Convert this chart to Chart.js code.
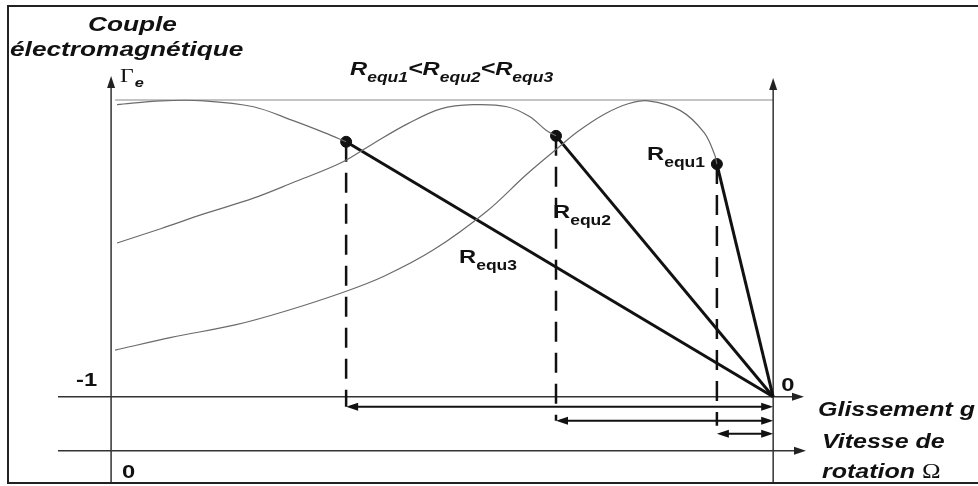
<!DOCTYPE html>
<html lang="fr">
<head>
<meta charset="utf-8">
<title>Couple électromagnétique – glissement</title>
<script src="https://cdn.jsdelivr.net/npm/chart.js@4.4.1/dist/chart.umd.min.js"></script>
<style>
  html, body { margin: 0; padding: 0; background: #fff; }
  #wrap { position: relative; width: 978px; height: 486px; }
</style>
</head>
<body>
<div id="wrap"><canvas id="chart"></canvas></div>
<script>
// Caractéristiques couple / glissement pour trois résistances rotoriques.
// Abscisse : glissement g (-1 à gauche, 0 au synchronisme à droite).
// Ordonnée : couple normalisé (1 = couple maximal).

const g1 = [-0.994, -0.909, -0.811, -0.736, -0.647, -0.587, -0.513, -0.432, -0.373, -0.328, -0.294, -0.253, -0.219, -0.189, -0.140, -0.104, -0.088, -0.085];
const couple1 = [0.157, 0.200, 0.243, 0.289, 0.354, 0.407, 0.495, 0.626, 0.748, 0.833, 0.895, 0.954, 0.987, 0.997, 0.964, 0.889, 0.813, 0.784];

const g2 = [-0.991, -0.924, -0.860, -0.785, -0.726, -0.651, -0.602, -0.551, -0.502, -0.453, -0.402, -0.368, -0.343, -0.328];
const couple2 = [0.518, 0.567, 0.616, 0.669, 0.721, 0.790, 0.856, 0.921, 0.970, 0.984, 0.977, 0.944, 0.898, 0.879];

const g3 = [-0.991, -0.924, -0.860, -0.785, -0.726, -0.677, -0.645];
const couple3 = [0.984, 0.997, 0.997, 0.977, 0.931, 0.889, 0.859];

// points de fonctionnement (R_equ1, R_equ2, R_equ3)
const gFonct = [-0.085, -0.328, -0.645];
const coupleFonct = [0.784, 0.879, 0.859];
const indices = ['equ1', 'equ2', 'equ3'];

const graduationsG = [-1, 0];

// bornes des échelles : g=-1 et g=0, couple 0 et 1 tombent sur les axes dessinés
const G_MIN = -1.15797, G_MAX = 0.29956;
const C_MIN = -0.27869, C_MAX = 1.31475;

const NOIR = '#111';
const ETIRE = 1.25; // le texte est un peu élargi horizontalement
const POLICE = '"Liberation Sans", Arial, sans-serif';

function toPoints(xs, ys) {
  return xs.map((x, i) => ({ x, y: ys[i] }));
}

function courbe(xs, ys) {
  return {
    data: toPoints(xs, ys),
    showLine: true,
    borderColor: '#6b6b6b',
    borderWidth: 1.2,
    pointRadius: 0,
    tension: 0.35,
    fill: false,
  };
}

function droite(i) {
  return {
    data: [{ x: gFonct[i], y: coupleFonct[i] }, { x: 0, y: 0 }],
    showLine: true,
    borderColor: NOIR,
    borderWidth: 3,
    pointRadius: 0,
    fill: false,
  };
}

function texte(ctx, str, x, y, font) {
  ctx.save();
  ctx.font = font;
  ctx.fillStyle = NOIR;
  ctx.textBaseline = 'alphabetic';
  ctx.translate(x, y);
  ctx.scale(ETIRE, 1);
  ctx.fillText(str, 0, 0);
  const w = ctx.measureText(str).width * ETIRE;
  ctx.restore();
  return w;
}

// R avec indice, éventuellement en italique
function labelR(ctx, x, y, indice, italique) {
  const st = italique ? 'italic bold ' : 'bold ';
  let w = texte(ctx, 'R', x, y, st + '19px ' + POLICE);
  w += texte(ctx, indice, x + w, y + 7, st + '14px ' + POLICE);
  return w;
}

function tete(ctx, x, y, dx, dy) {
  // pointe de flèche en (x, y), orientée selon (dx, dy)
  const L = 12, l = 4;
  ctx.beginPath();
  ctx.moveTo(x, y);
  ctx.lineTo(x - dx * L - dy * l, y - dy * L + dx * l);
  ctx.lineTo(x - dx * L + dy * l, y - dy * L - dx * l);
  ctx.closePath();
  ctx.fill();
}

const decor = {
  id: 'decor',
  beforeDatasetsDraw(chart) {
    const { ctx, scales: { x, y } } = chart;
    const xm1 = x.getPixelForValue(graduationsG[0]);
    const x0 = x.getPixelForValue(graduationsG[1]);
    const y0 = y.getPixelForValue(0);
    const y1 = y.getPixelForValue(1);
    const yVitesse = y0 + 54;

    ctx.save();
    // cadre
    ctx.strokeStyle = '#222';
    ctx.lineWidth = 2;
    ctx.strokeRect(8, 6, 1000, 477);

    // couple maximal
    ctx.strokeStyle = '#c4c4c4';
    ctx.lineWidth = 2;
    ctx.beginPath();
    ctx.moveTo(xm1 + 4, y1);
    ctx.lineTo(x0, y1);
    ctx.stroke();

    // axes
    ctx.strokeStyle = '#333';
    ctx.fillStyle = '#222';
    ctx.lineWidth = 1.5;
    ctx.beginPath();
    ctx.moveTo(xm1, 482); ctx.lineTo(xm1, 80);
    ctx.moveTo(x0, 482); ctx.lineTo(x0, 82);
    ctx.moveTo(58, y0); ctx.lineTo(800, y0);
    ctx.moveTo(58, yVitesse); ctx.lineTo(802, yVitesse);
    ctx.stroke();
    tete(ctx, xm1, 76, 0, -1);
    tete(ctx, x0, 78, 0, -1);
    tete(ctx, 804, y0, 1, 0);
    tete(ctx, 806, yVitesse, 1, 0);

    // verticales en tirets et plages de glissement
    const decalages = [37, 24, 10];
    ctx.strokeStyle = NOIR;
    ctx.fillStyle = NOIR;
    gFonct.forEach((g, i) => {
      const xp = x.getPixelForValue(g);
      const yp = y.getPixelForValue(coupleFonct[i]);
      const ya = y0 + decalages[i];
      ctx.lineWidth = 2.5;
      ctx.setLineDash([20, 11]);
      ctx.beginPath();
      ctx.moveTo(xp, yp);
      ctx.lineTo(xp, ya - (i === 0 ? 8 : 0));
      ctx.stroke();
      ctx.setLineDash([]);
      ctx.lineWidth = 2;
      ctx.beginPath();
      ctx.moveTo(xp + 4, ya);
      ctx.lineTo(x0 - 4, ya);
      ctx.stroke();
      tete(ctx, xp, ya, -1, 0);
      tete(ctx, x0, ya, 1, 0);
    });
    ctx.restore();
  },
  afterDatasetsDraw(chart) {
    const { ctx, scales: { x, y } } = chart;
    const xm1 = x.getPixelForValue(graduationsG[0]);
    const x0 = x.getPixelForValue(graduationsG[1]);
    const y0 = y.getPixelForValue(0);
    const bi = 'italic bold 20px ' + POLICE;

    texte(ctx, 'Couple', 88, 31, 'italic bold 21px ' + POLICE);
    texte(ctx, 'électromagnétique', 10, 56, 'italic bold 21px ' + POLICE);
    const wG = texte(ctx, 'Γ', xm1 + 9, 82, '19px "Liberation Serif", serif');
    texte(ctx, 'e', xm1 + 10 + wG, 87, 'italic bold 13px ' + POLICE);

    // R_equ1 < R_equ2 < R_equ3
    let xt = 350;
    indices.forEach((ind, i) => {
      xt += labelR(ctx, xt, 75, ind, true);
      if (i < indices.length - 1) xt += texte(ctx, '<', xt, 75, bi);
    });

    const nb = 'bold 19px ' + POLICE;
    ctx.save();
    ctx.font = nb;
    const wm1 = ctx.measureText('-1').width * ETIRE;
    ctx.restore();
    texte(ctx, '-1', xm1 - 14 - wm1, y0 - 11, nb);
    texte(ctx, '0', x0 + 8, y0 - 6, nb);
    texte(ctx, '0', xm1 + 11, 478, nb);

    texte(ctx, 'Glissement g', 818, 416, bi);
    texte(ctx, 'Vitesse de', 822, 448, bi);
    const wRot = texte(ctx, 'rotation ', 822, 478, bi);
    texte(ctx, 'Ω', 822 + wRot, 478, '20px "Liberation Serif", serif');

    // étiquettes près des points de fonctionnement
    labelR(ctx, 647, 160, indices[0], false);
    labelR(ctx, 553, 218, indices[1], false);
    labelR(ctx, 459, 263, indices[2], false);
  },
};

new Chart(document.getElementById('chart'), {
  type: 'scatter',
  data: {
    datasets: [
      courbe(g1, couple1),
      courbe(g2, couple2),
      courbe(g3, couple3),
      droite(0),
      droite(1),
      droite(2),
      {
        data: toPoints(gFonct, coupleFonct),
        pointRadius: 5.5,
        pointBackgroundColor: NOIR,
        pointBorderColor: NOIR,
        showLine: false,
      },
    ],
  },
  options: {
    responsive: true,
    maintainAspectRatio: false,
    animation: false,
    events: [],
    layout: { padding: 0 },
    plugins: { legend: { display: false }, tooltip: { enabled: false } },
    scales: {
      x: { type: 'linear', min: G_MIN, max: G_MAX, display: false },
      y: { type: 'linear', min: C_MIN, max: C_MAX, display: false },
    },
  },
  plugins: [decor],
});
</script>
</body>
</html>
